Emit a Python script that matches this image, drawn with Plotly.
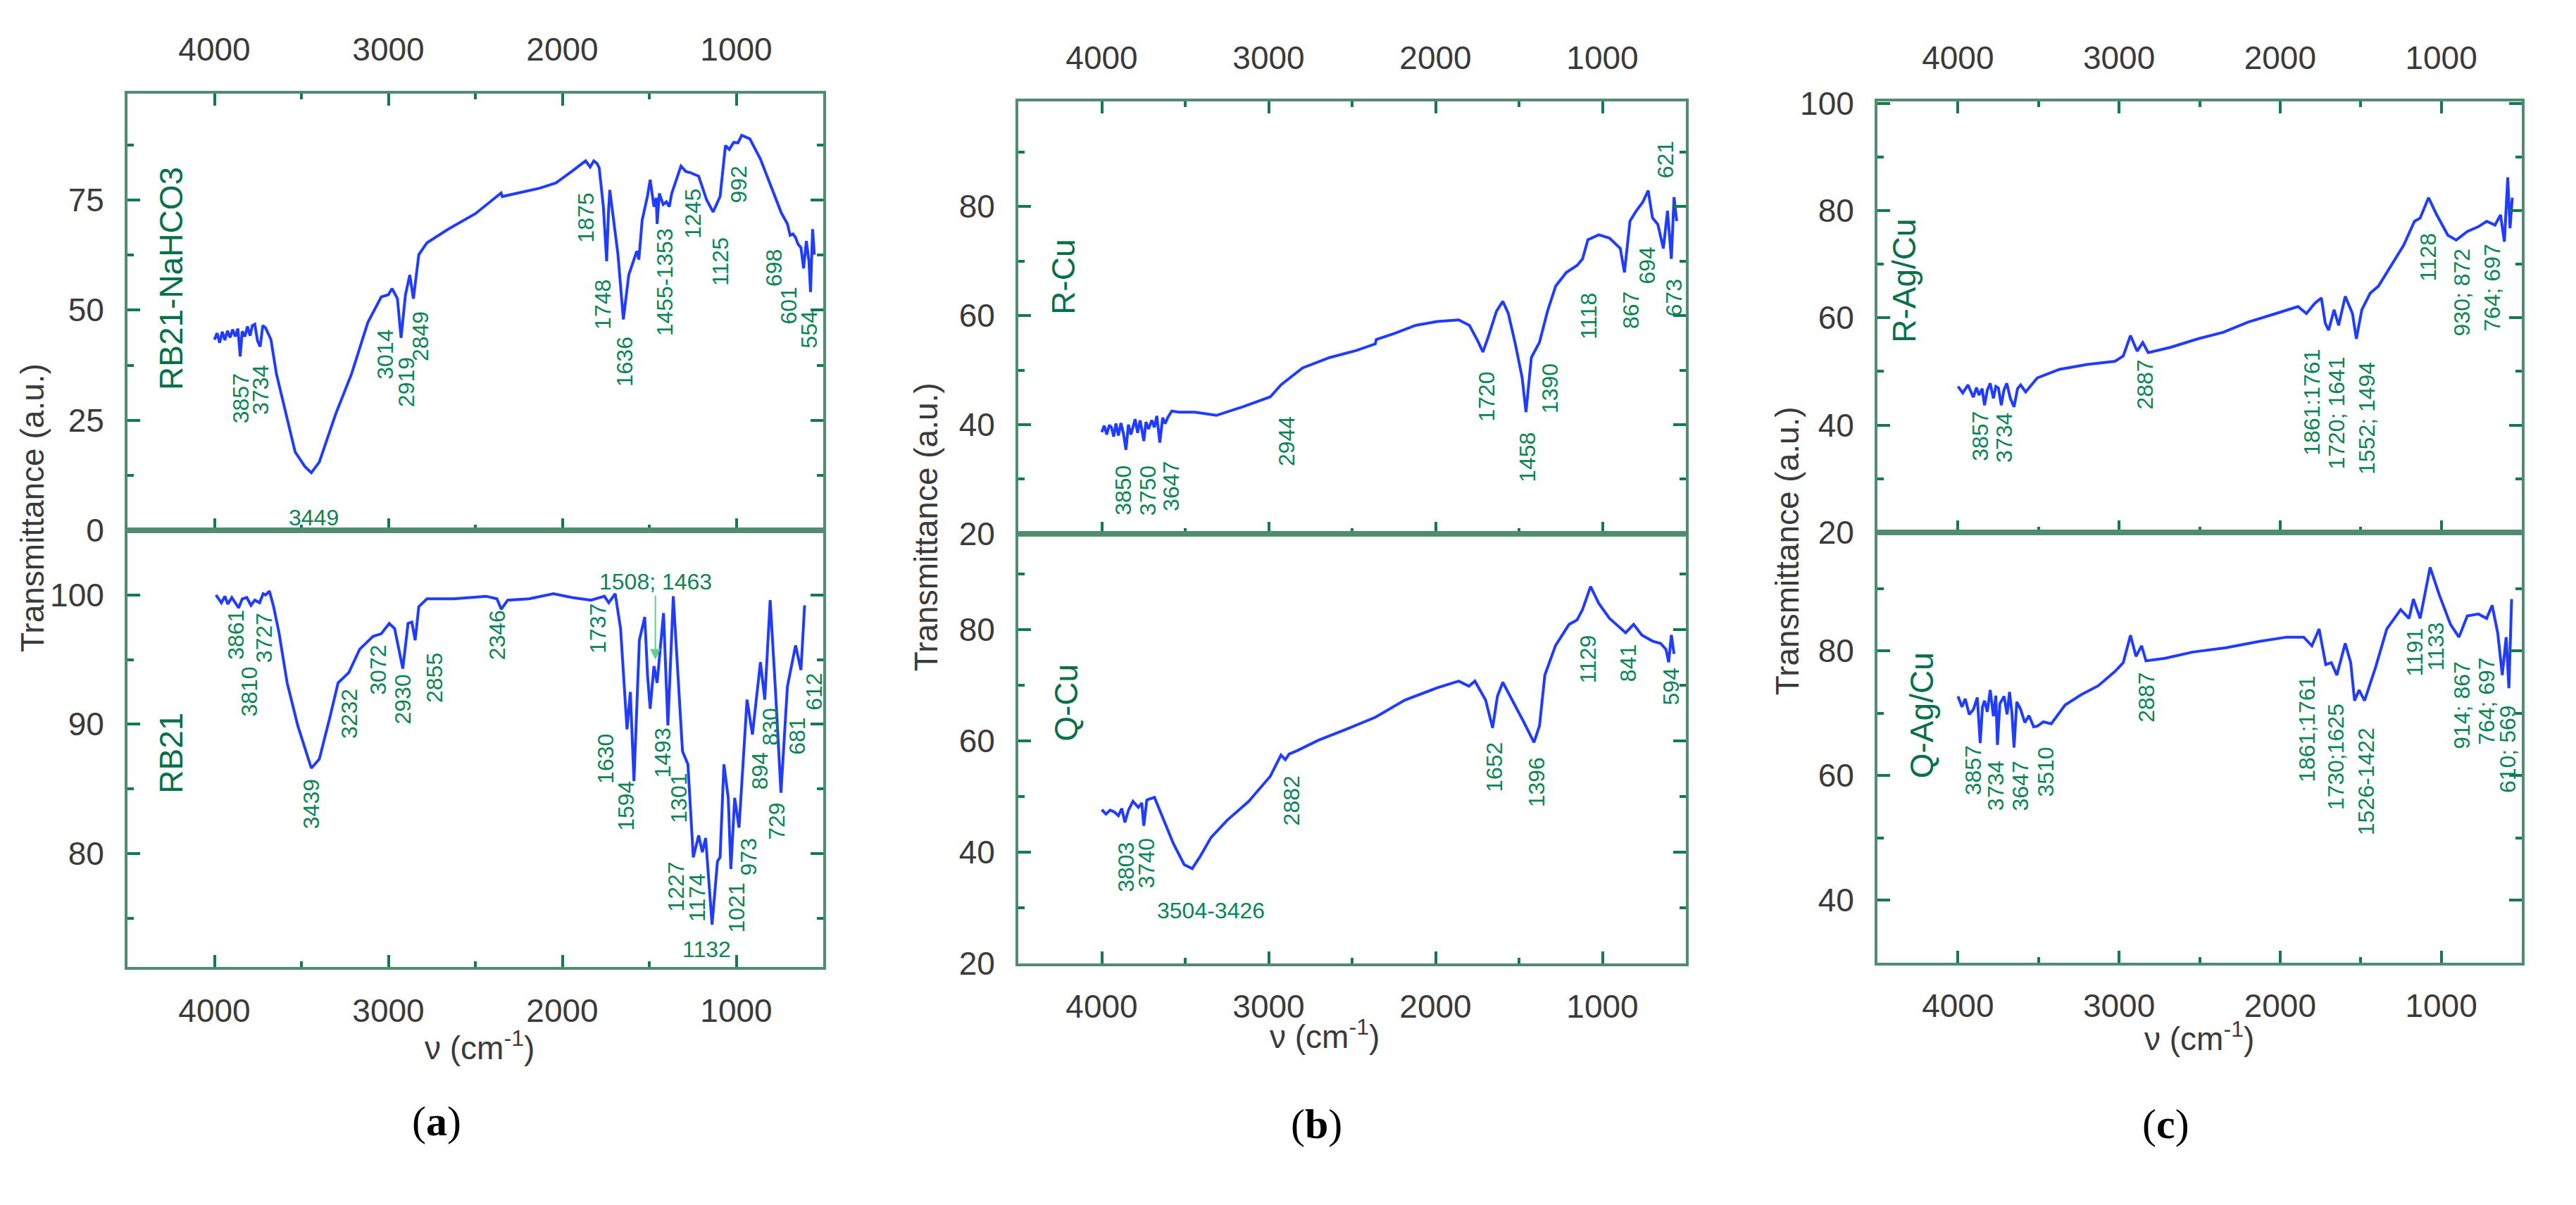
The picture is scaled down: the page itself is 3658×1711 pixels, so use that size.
import plotly.graph_objects as go

W, H = 3658, 1711

# ---------------- data (wavenumber cm-1, transmittance a.u.) ----------------
A_TOP_WN = [4000, 3985, 3970, 3955, 3940, 3925, 3910, 3895, 3880, 3865, 3852, 3840, 3825, 3810, 3795, 3782, 3768, 3752,
            3737, 3722, 3706, 3690, 3675, 3644, 3582, 3536, 3480, 3443, 3397, 3304, 3211, 3118, 3041, 3000, 2979,
            2948, 2927, 2902, 2877, 2856, 2825, 2778, 2655, 2500, 2352, 2345, 2129, 2036, 1943, 1866, 1840, 1819,
            1800, 1788, 1764, 1745, 1735, 1727, 1705, 1680, 1649, 1618, 1572, 1560, 1541, 1510, 1495, 1473, 1460,
            1455, 1442, 1420, 1402, 1385, 1371, 1318, 1290, 1263, 1216, 1170, 1133, 1093, 1062, 1040, 1015, 990, 969,
            922, 861, 784, 740, 706, 690, 674, 659, 645, 628, 613, 597, 582, 573, 561, 551]
A_TOP_T = [43.3, 44.8, 42.6, 45.1, 43.2, 45.3, 43.8, 45.6, 44.0, 45.8, 39.5, 45.2, 44.0, 46.3, 44.2, 46.5, 46.8, 43.0,
           41.7, 46.5, 46.0, 44.5, 43.3, 35.6, 25.5, 17.8, 14.5, 13.1, 15.5, 26.3, 35.6, 47.2, 53.0, 53.5, 54.9,
           52.6, 43.7, 53.4, 58.0, 52.6, 62.6, 65.3, 68.4, 71.9, 76.6, 75.8, 77.7, 78.9, 81.6, 83.9, 82.5, 83.9,
           83.3, 82.3, 73.5, 61.1, 72.0, 77.3, 70.4, 62.6, 47.9, 58.0, 63.4, 61.5, 70.4, 76.0, 79.6, 73.5, 75.5,
           69.6, 76.5, 74.0, 74.6, 73.5, 76.5, 82.7, 81.5, 81.2, 80.4, 75.0, 72.3, 75.8, 87.4, 86.5, 88.1, 88.0, 89.7,
           88.9, 84.3, 76.5, 72.0, 69.6, 67.0, 67.3, 66.5, 65.0, 64.2, 59.5, 65.7, 61.1, 54.1, 68.4, 62.6]

A_BOT_WN = [3991, 3960, 3940, 3923, 3900, 3880, 3861, 3840, 3814, 3790, 3768, 3740, 3720, 3706, 3684, 3660, 3629, 3582,
            3521, 3443, 3397, 3335, 3289, 3227, 3165, 3088, 3041, 2995, 2964, 2917, 2887, 2865, 2846, 2825, 2778,
            2624, 2438, 2376, 2351, 2314, 2191, 2051, 1943, 1835, 1758, 1733, 1696, 1665, 1640, 1628, 1609, 1588,
            1557, 1526, 1510, 1495, 1473, 1455, 1418, 1393, 1362, 1331, 1309, 1278, 1247, 1216, 1195, 1176, 1139,
            1108, 1093, 1071, 1046, 1031, 1009, 984, 938, 907, 861, 836, 805, 774, 743, 706, 659, 628, 607]
A_BOT_T = [100.0, 99.4, 99.9, 99.3, 99.8, 99.4, 99.0, 99.7, 99.8, 99.2, 99.6, 99.4, 100.1, 100.0, 100.3, 99.1, 97.1,
           93.2, 89.9, 86.6, 87.3, 90.6, 93.2, 94.0, 95.8, 96.8, 97.0, 97.8, 97.4, 94.3, 97.8, 97.9, 96.5, 99.1, 99.7,
           99.7, 99.9, 99.7, 98.9, 99.6, 99.7, 100.1, 99.8, 99.6, 99.9, 99.4, 100.1, 97.4, 91.9, 89.6, 92.5, 85.6,
           96.5, 98.3, 93.8, 91.2, 94.5, 93.2, 98.6, 89.9, 99.9, 93.2, 87.9, 86.9, 79.7, 81.4, 80.1, 81.2, 74.5,
           79.4, 79.7, 86.9, 84.3, 78.8, 84.3, 82.0, 91.9, 89.2, 94.8, 91.9, 99.6, 92.5, 84.7, 92.9, 96.1, 94.2, 99.2]

B_TOP_WN = [4000, 3985, 3970, 3955, 3942, 3928, 3915, 3900, 3885, 3870, 3855, 3840, 3825, 3813, 3800, 3785, 3770, 3758,
            3748, 3735, 3720, 3700, 3685, 3670, 3652, 3635, 3620, 3603, 3580, 3539, 3442, 3313, 3152, 2990, 2926, 2797,
            2635, 2474, 2361, 2355, 2248, 2119, 1990, 1861, 1797, 1748, 1716, 1684, 1635, 1597, 1564, 1522, 1481, 1458,
            1426, 1377, 1329, 1280, 1216, 1151, 1119, 1087, 1022, 958, 893, 868, 835, 797, 758, 726, 700, 668, 635, 610,
            587, 571, 555]
B_TOP_T = [38.6, 39.8, 38.2, 39.9, 39.5, 37.8, 40.2, 38.0, 40.3, 38.4, 35.4, 40.0, 38.2, 39.8, 41.0, 38.5, 40.8, 38.8,
           37.0, 40.5, 39.2, 40.8, 39.5, 41.6, 36.7, 41.3, 40.2, 41.4, 42.5, 42.3, 42.3, 41.7, 43.3, 45.1, 47.3, 50.4,
           52.3, 53.6, 54.8, 55.6, 56.7, 58.2, 58.9, 59.2, 58.2, 55.4, 53.3, 56.1, 60.8, 62.6, 60.4, 54.8, 48.6, 42.3,
           52.3, 55.1, 60.8, 65.4, 67.9, 69.2, 70.4, 73.9, 74.8, 74.2, 72.3, 67.9, 77.3, 79.2, 80.8, 82.9, 77.9, 76.7,
           72.3, 79.2, 70.4, 81.7, 77.3]

B_BOT_WN = [4000, 3975, 3950, 3926, 3900, 3880, 3861, 3840, 3813, 3781, 3760, 3748, 3730, 3716, 3684, 3635, 3571, 3506,
            3458, 3410, 3345, 3248, 3119, 2990, 2926, 2900, 2877, 2829, 2700, 2539, 2361, 2184, 1990, 1861, 1800, 1764,
            1700, 1658, 1629, 1597, 1539, 1474, 1410, 1377, 1345, 1281, 1200, 1152, 1119, 1071, 1022, 958, 861, 813,
            764, 700, 652, 619, 603, 587, 571]
B_BOT_T = [47.6, 46.8, 47.5, 47.2, 46.5, 47.8, 45.3, 47.5, 49.1, 48.0, 48.8, 44.7, 49.3, 49.5, 49.8, 46.1, 41.5, 37.7,
           37.0, 39.2, 42.6, 45.7, 49.1, 53.6, 57.4, 56.6, 57.6, 58.2, 60.1, 62.0, 64.2, 67.3, 69.5, 70.7, 69.8, 70.7,
           67.3, 62.3, 68.0, 70.5, 67.3, 63.5, 59.7, 62.7, 71.8, 77.1, 80.9, 81.7, 83.6, 87.7, 84.7, 82.0, 79.4, 80.9,
           79.0, 77.9, 77.5, 76.4, 74.1, 79.0, 75.6]

C_TOP_WN = [4000, 3970, 3938, 3905, 3885, 3869, 3850, 3835, 3818, 3800, 3780, 3765, 3749, 3731, 3715, 3697, 3675, 3652,
            3630, 3611, 3580, 3508, 3370, 3198, 3025, 2974, 2929, 2888, 2853, 2819, 2681, 2509, 2354, 2199, 2027, 1889,
            1837, 1785, 1744, 1720, 1699, 1665, 1637, 1596, 1551, 1527, 1493, 1441, 1390, 1320, 1234, 1166, 1131, 1079,
            1028, 959, 907, 838, 769, 718, 666, 632, 608, 587, 573, 559]
C_TOP_T = [47.2, 46.0, 47.5, 45.2, 47.0, 45.6, 46.8, 43.7, 46.5, 47.8, 45.0, 47.2, 46.9, 43.7, 46.5, 47.8, 45.0, 43.4,
           46.8, 47.5, 46.2, 48.8, 50.4, 51.3, 51.9, 52.9, 56.7, 53.8, 55.4, 53.5, 54.5, 56.1, 57.3, 59.2, 60.8, 62.1,
           60.8, 62.7, 63.7, 59.0, 57.7, 61.5, 58.6, 64.0, 60.8, 56.1, 61.5, 64.6, 65.9, 69.4, 73.5, 78.0, 78.6, 82.4,
           79.2, 75.4, 74.5, 76.1, 77.0, 78.0, 77.3, 79.2, 74.2, 86.2, 76.7, 82.4]

C_BOT_WN = [4000, 3975, 3955, 3930, 3904, 3880, 3862, 3848, 3835, 3818, 3800, 3780, 3765, 3755, 3740, 3714, 3695, 3680,
            3665, 3652, 3635, 3611, 3585, 3559, 3530, 3508, 3470, 3421, 3335, 3232, 3129, 3025, 2974, 2929, 2895, 2860,
            2833, 2715, 2543, 2336, 2130, 1958, 1854, 1803, 1758, 1717, 1682, 1648, 1596, 1562, 1538, 1510, 1476, 1441,
            1407, 1338, 1252, 1200, 1173, 1131, 1069, 1011, 942, 890, 838, 769, 718, 684, 649, 621, 597, 580, 563]
C_BOT_T = [72.7, 71.0, 72.3, 69.8, 70.6, 72.5, 65.2, 71.0, 72.0, 70.2, 73.7, 69.5, 72.8, 64.9, 71.5, 72.7, 69.8, 73.4,
           70.0, 64.5, 71.8, 70.6, 68.5, 69.6, 67.8, 67.9, 68.6, 68.3, 71.3, 73.0, 74.4, 76.7, 78.1, 82.5, 79.1, 80.8,
           78.4, 78.8, 79.8, 80.5, 81.5, 82.2, 82.2, 80.8, 83.5, 77.8, 78.1, 76.1, 81.2, 78.1, 72.0, 73.7, 72.0, 74.7,
           77.4, 83.5, 86.6, 85.2, 88.3, 85.2, 93.4, 88.9, 84.2, 82.2, 85.6, 85.9, 85.2, 87.3, 82.8, 76.1, 82.2, 74.0,
           88.3]

# ---------------- peak labels (text) ----------------
A_TOP_LABELS = ["3857", "3734", "3014", "2919", "2849", "1875", "1748", "1636", "1455-1353", "1245", "1125", "992",
                "698", "601", "554"]
A_BOT_LABELS = ["3861", "3727", "3810", "3439", "3232", "3072", "2930", "2855", "2346", "1737", "1630", "1594", "1493",
                "1301", "1227", "1174", "1021", "973", "894", "830", "729", "681", "612"]
B_TOP_LABELS = ["3850", "3750", "3647", "2944", "1720", "1458", "1390", "1118", "867", "694", "673", "621"]
B_BOT_LABELS = ["3803", "3740", "2882", "1652", "1396", "1129", "841", "594"]
C_TOP_LABELS = ["3857", "3734", "2887", "1861:1761", "1720; 1641", "1552; 1494", "1128", "930; 872", "764; 697"]
C_BOT_LABELS = ["3857", "3734", "3647", "3510", "2887", "1861;1761", "1730;1625", "1526-1422", "1191", "1133",
                "914; 867", "764; 697", "610; 569"]
SAMPLES = ["RB21-NaHCO3", "RB21", "R-Cu", "Q-Cu", "R-Ag/Cu", "Q-Ag/Cu"]
PANEL_LETTERS = ["a", "b", "c"]

# label positions (layout, in data coordinates of each subplot)
A_TOP_POS = [(3845, 30), (3737, 31.9), (3019, 40), (2896, 33.6), (2815, 44), (1866, 71), (1767, 51.2), (1643, 38.3),
             (1411, 56.4), (1247, 71.9), (1094, 61), (984, 78.5), (783, 59.5), (697, 51), (582, 45.6)]
A_BOT_POS = [(3876, 96.9), (3715, 96.7), (3799, 92.5), (3443, 83.8), (3227, 90.8), (3057, 94.2), (2917, 91.9),
             (2732, 93.6), (2376, 96.9), (1798, 97.4), (1751, 87.3), (1634, 83.7), (1424, 87.8), (1331, 84.3),
             (1346, 77.4), (1222, 76.6), (1000, 75.8), (929, 79.7), (861, 86.4), (805, 89.8), (768, 82.5),
             (650, 89.1), (551, 92.5)]
B_TOP_POS = [(3871, 27.9), (3726, 27.9), (3587, 28.7), (2893, 37), (1693, 45.1), (1448, 34), (1313, 46.6),
             (1081, 59.9), (829, 60.9), (732, 69.1), (571, 63.2), (619, 88.6)]
B_BOT_POS = [(3855, 37.3), (3732, 37.9), (2861, 49.2), (1651, 55.2), (1393, 52.5), (1087, 74.7), (845, 73.9),
             (587, 69.7)]
C_TOP_POS = [(3862, 38), (3714, 37.7), (2843, 47.5), (1803, 44.3), (1648, 42.3), (1465, 41.3), (1079, 71.3),
             (873, 64.8), (683, 65.6)]
C_BOT_POS = [(3904, 60.8), (3766, 58.4), (3611, 58.3), (3456, 60.6), (2829, 72.5), (1837, 67.4), (1655, 63),
             (1465, 59), (1166, 79.8), (1035, 80.7), (873, 71.3), (718, 71.9), (587, 64.2)]

# ---------------- styling ----------------
LINE = "#1f3cff"
AXLINE = "#4f8c70"
TICKC = "#137a50"
TXT = "#3a3a3a"
PK = "#0b8556"
SMP = "#05704a"
FONT = "Arial, Liberation Sans, sans-serif"
TICKF = 46
PKF = 32


def dom(p0, p1, total):
    return [p0 / total, p1 / total]


def ydom(top, bot):
    return [1 - bot / H, 1 - top / H]


# subplot pixel boxes: (left, right, top, bottom)
boxes = [
    (181, 1169, 112, 751), (181, 1169, 751, 1390),
    (1446, 2394, 124, 756), (1446, 2394, 756, 1384),
    (2666, 3581, 124, 754), (2666, 3581, 754, 1383),
]
yranges = [[0, 99.2], [71.2, 105.0], [20, 99.2], [20, 97.2], [20, 100.3], [30, 99]]
ydticks = [(25, 12.5), (10, 5), (20, 10), (20, 10), (20, 10), (20, 10)]
data = [(A_TOP_WN, A_TOP_T), (A_BOT_WN, A_BOT_T), (B_TOP_WN, B_TOP_T), (B_BOT_WN, B_BOT_T),
        (C_TOP_WN, C_TOP_T), (C_BOT_WN, C_BOT_T)]
labels = [(A_TOP_LABELS, A_TOP_POS), (A_BOT_LABELS, A_BOT_POS), (B_TOP_LABELS, B_TOP_POS),
          (B_BOT_LABELS, B_BOT_POS), (C_TOP_LABELS, C_TOP_POS), (C_BOT_LABELS, C_BOT_POS)]
sample_pos = [(0.063, 0.576), (0.063, 0.49), (0.0675, 0.595), (0.072, 0.607), (0.0415, 0.584), (0.069, 0.574)]

fig = go.Figure()
annotations = []

for i in range(6):
    n = i + 1
    xs = "" if n == 1 else str(n)
    l, r, t, b = boxes[i]
    is_top = (i % 2 == 0)
    wn, tv = data[i]
    fig.add_trace(go.Scatter(x=wn, y=tv, mode="lines", line=dict(color=LINE, width=4),
                             xaxis="x" + xs, yaxis="y" + xs, showlegend=False, hoverinfo="skip"))
    fig.layout["xaxis" + xs] = dict(
        domain=dom(l, r, W), anchor="y" + xs, range=[4500, 500], side="top" if is_top else "bottom",
        tickmode="linear", tick0=0, dtick=1000, ticks="inside", ticklen=17, tickwidth=4, tickcolor=TICKC,
        minor=dict(dtick=500, tick0=0, ticks="inside", ticklen=8, tickwidth=4, tickcolor=TICKC),
        showline=True, linecolor=AXLINE, linewidth=4, mirror="ticks" if is_top else True,
        showgrid=False, zeroline=False, ticklabelstandoff=24 if is_top else 18,
        tickfont=dict(family=FONT, size=TICKF, color=TXT),
    )
    d, md = ydticks[i]
    fig.layout["yaxis" + xs] = dict(
        domain=ydom(t, b), anchor="x" + xs, range=yranges[i],
        tickmode="linear", tick0=0, dtick=d, ticks="inside", ticklen=18, tickwidth=4, tickcolor=TICKC,
        minor=dict(dtick=md, tick0=0, ticks="inside", ticklen=9, tickwidth=4, tickcolor=TICKC),
        showline=True, linecolor=AXLINE, linewidth=4, mirror="ticks",
        showgrid=False, zeroline=False, ticklabelstandoff=20,
        tickfont=dict(family=FONT, size=TICKF, color=TXT),
    )
    texts, poss = labels[i]
    for txt, (px, py) in zip(texts, poss):
        annotations.append(dict(x=px, y=py, xref="x" + xs, yref="y" + xs, text=txt, showarrow=False,
                                textangle=-90, font=dict(family=FONT, size=PKF, color=PK),
                                xanchor="center", yanchor="middle"))
    sx, sy = sample_pos[i]
    annotations.append(dict(x=sx, y=sy, xref="x" + xs + " domain", yref="y" + xs + " domain", text=SAMPLES[i],
                            showarrow=False, textangle=-90, font=dict(family=FONT, size=46, color=SMP),
                            xanchor="center", yanchor="middle"))

# horizontal peak labels
annotations += [
    dict(x=3428, y=2.9, xref="x", yref="y", text="3449", showarrow=False,
         font=dict(family=FONT, size=PKF, color=PK)),
    dict(x=1170, y=72.6, xref="x2", yref="y2", text="1132", showarrow=False,
         font=dict(family=FONT, size=PKF, color=PK)),
    dict(x=1465, y=95.0, xref="x2", yref="y2", ax=1465, ay=101.0, axref="x2", ayref="y2", text="1508; 1463",
         showarrow=True, arrowhead=2, arrowsize=1.5, arrowwidth=2, arrowcolor="#5fcf8f", standoff=0,
         font=dict(family=FONT, size=PKF, color=PK)),
    dict(x=3345, y=29.5, xref="x4", yref="y4", text="3504-3426", showarrow=False,
         font=dict(family=FONT, size=PKF, color=PK)),
]


def P(x, y):
    return x / W, 1 - y / H


for (cx, cy) in [(46, 718), (1315, 746), (2538, 781)]:
    px, py = P(cx, cy)
    annotations.append(dict(x=px, y=py, xref="paper", yref="paper", text="Transmittance (a.u.)", showarrow=False,
                            textangle=-90, font=dict(family=FONT, size=TICKF, color=TXT),
                            xanchor="center", yanchor="middle"))
for (cx, cy) in [(681, 1505), (1881, 1489), (3123, 1492)]:
    px, py = P(cx, cy)
    annotations.append(dict(x=px, y=py, xref="paper", yref="paper", text="\u03bd (cm<sup>-1</sup>)",
                            showarrow=False, font=dict(family=FONT, size=TICKF, color=TXT),
                            xanchor="center", yanchor="middle"))
for (cx, cy), letter in zip([(620, 1615), (1870, 1619), (3075, 1619)], PANEL_LETTERS):
    px, py = P(cx, cy)
    annotations.append(dict(x=px, y=py, xref="paper", yref="paper", text="(<b>%s</b>)" % letter,
                            showarrow=False, font=dict(family="Liberation Serif, Times New Roman, serif",
                                                       size=60, color="#000000"),
                            xanchor="center", yanchor="middle"))

fig.update_layout(width=W, height=H, margin=dict(l=0, r=0, t=0, b=0), paper_bgcolor="white",
                  plot_bgcolor="white", annotations=annotations, showlegend=False)

fig.write_html("out.html")
